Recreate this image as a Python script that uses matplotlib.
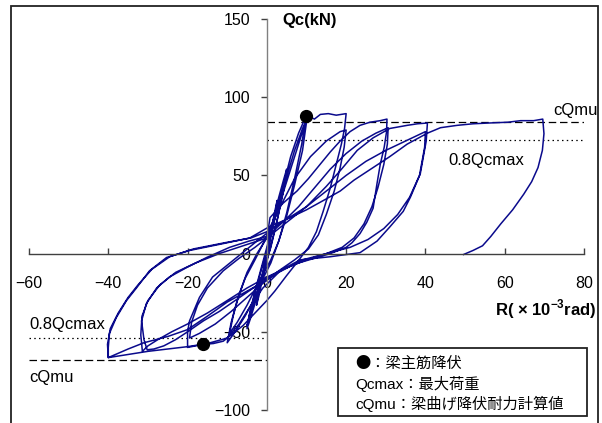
import matplotlib
matplotlib.use("Agg")
import matplotlib.pyplot as plt
from matplotlib.patches import Rectangle

plt.rcParams['font.family'] = ['Liberation Sans', 'DejaVu Sans']
plt.rcParams['mathtext.fontset'] = 'custom'
plt.rcParams['mathtext.rm'] = 'Liberation Sans'
plt.rcParams['mathtext.bf'] = 'Liberation Sans:bold'

# ---- data ----
R = [0, 1.0, 2.0, 2.6, 2.0, 1.0, 0.0, -1.0, -2.0, -2.6, -2.0, -1.0, 0.0,
     1.5, 3.0, 4.2, 5.0, 4.4, 3.0, 1.5, 0.0, -1.5, -3.0, -4.2, -5.0, -4.5, -3.0, -1.5, 0.0,
     1.8, 3.5, 5.0, 4.2, 2.5, 1.0, -1.0, -3.0, -5.0, -4.0, -2.0, 0.0,
     2.0, 4.0, 6.0, 8.0, 9.9, 8.8, 7.0, 5.0, 3.0, 1.0, -1.0, -3.0, -5.5, -8.0, -10.0,
     -9.0, -7.5, -5.5, -3.0, -1.0, 1.0, 3.0, 5.0, 7.0, 9.0, 10.0,
     9.0, 7.0, 5.0, 3.0, 1.0, -2.0, -5.0, -7.5, -9.4,
     -8.5, -7.0, -5.0, -2.5, 0.0,
     2.0, 4.5, 7.0, 9.0, 10.5, 12.0, 13.5, 15.5, 17.5, 20.0,
     19.6, 18.8, 17.7, 16.0, 14.2, 12.5, 10.5, 7.5, 5.0, 2.0, 0.0, -3.0, -6.0, -9.0, -11.0, -13.5, -16.0, -18.0, -20.0,
     -20.0, -19.5, -17.0, -13.7, -8.6, -5.0, -2.5, 0.0,
     3.0, 7.0, 11.0, 15.0, 18.5, 20.0,
     19.5, 18.5, 17.0, 15.0, 13.0, 10.5, 7.0, 3.0, -1.0, -5.0, -9.0, -13.0, -17.0, -19.5,
     -19.0, -17.5, -15.0, -11.0, -7.0, -3.0, 0.0,
     0.8, 4.0, 7.6, 10.5, 13.4, 16.0, 18.5, 21.0, 23.5, 26.0, 28.6, 30.3,
     30.2, 29.6, 28.6, 27.8, 26.8, 25.2, 23.5, 21.5, 20.0, 16.0, 12.0, 8.0, 4.0, 0.0,
     -4.0, -8.0, -12.0, -16.0, -20.0, -23.0, -26.0, -28.5, -30.2,
     -31.0, -31.6, -30.4, -27.8, -24.6, -20.3, -15.2, -9.4, -4.5, 0.0,
     4.0, 8.0, 12.0, 16.0, 20.0, 24.0, 27.5, 30.6,
     30.4, 29.5, 28.0, 26.5, 24.5, 22.0, 19.0, 15.0, 10.0, 5.0, 0.0, -5.0, -10.0, -15.0, -20.0, -24.0, -27.5, -30.0, -31.4,
     -31.8, -31.5, -30.0, -27.0, -23.0, -18.0, -12.0, -6.0, 0.0,
     5.0, 10.0, 15.0, 18.5, 22.8, 26.8, 31.0, 35.4, 38.0, 40.5,
     40.2, 38.7, 36.2, 34.4, 31.0, 27.8, 23.5, 16.0, 8.4, 4.0, 0.0, -5.0, -10.0, -15.0, -20.0, -25.0, -31.0, -35.0, -40.0,
     -40.2, -39.5, -37.5, -35.0, -32.5, -29.0, -24.5, -18.5, -10.5, -4.0, 0.0,
     5.0, 10.0, 15.0, 20.0, 25.0, 30.0, 35.0, 40.0,
     39.8, 38.5, 36.0, 33.0, 29.5, 25.5, 21.0, 15.0, 9.0, 3.0, -1.0, -4.0, -7.0, -10.0, -15.0, -20.0, -25.0, -30.0, -35.0, -40.0,
     -40.0, -39.7, -38.0, -35.4, -32.9, -29.6, -25.3, -19.5, -11.0, -4.3, 0.2,
     5.0, 10.0, 15.0, 18.5, 22.0, 26.8, 31.0, 35.4, 40.5, 43.8, 48.0, 52.0, 56.0, 60.8, 64.0, 67.3, 69.6,
     69.9, 69.5, 68.4, 66.8, 64.8, 62.0, 59.0, 56.5, 54.4, 52.0, 49.6]

Q = [0, 14, 27, 34, 24, 10, -4, -15, -27, -33, -24, -12, 2,
     20, 36, 47, 54, 44, 26, 10, -5, -18, -32, -42, -48, -40, -24, -10, 4,
     22, 38, 52, 40, 20, 4, -12, -30, -46, -35, -16, 2,
     22, 42, 62, 77, 88, 70, 48, 26, 8, -6, -16, -28, -40, -50, -57,
     -44, -30, -16, -4, 6, 16, 30, 46, 62, 78, 84,
     66, 44, 24, 8, -4, -18, -33, -44, -51,
     -40, -26, -12, 0, 10,
     22, 45, 66, 80, 88, 86, 89, 89.5, 88.5, 89.5,
     80, 70, 59, 42, 27, 14, 4, -6, -14, -24, -30, -38, -46, -52, -56, -57.5, -58, -59, -60,
     -50, -43, -28, -15, -4.5, 3, 8, 13,
     28, 48, 62, 72, 78, 79,
     68, 55, 40, 25, 12, 3, -4, -11, -19, -28, -37, -45, -51, -54,
     -44, -33, -22, -11, -3, 4, 10,
     23, 32, 40, 48, 57, 65, 72, 78, 82, 84, 85, 86,
     78, 68, 57, 45, 29, 20, 12.8, 7, 4, 0, -3, -6, -10, -16,
     -23, -30, -37, -43, -50, -55, -59, -61, -61.5,
     -55, -43, -32, -22, -15, -9, -2.5, 4, 8, 11,
     20, 30, 42, 54, 64, 72, 77, 80.5,
     70, 57, 42, 30, 19, 10, 4, 0, -4, -9, -15, -22, -30, -38, -45, -50, -55, -59, -62.5,
     -52, -40, -30, -20, -12, -6, 0, 5, 10,
     20, 30, 43, 53, 66, 74, 80, 82, 83, 83.5,
     72, 51, 36, 27, 17, 8, 0.6, -2, -4, -10, -17, -24, -31, -40, -48.6, -53, -57, -61, -66.5,
     -58, -48, -38, -28, -20, -10, -2, 3, 7, 10, 14,
     22, 30, 40, 50, 59, 66, 72, 78,
     68, 50, 36, 25, 16, 9, 4, 0, -4, -12, -22, -33, -45, -54, -57.5, -59.5, -61, -62.5, -64.5, -66.5,
     -60, -51, -41, -30, -22, -11, -2.5, 2, 6.4, 10, 16.6,
     22, 28, 35, 40, 47, 55, 62, 70, 77, 80.5, 82, 83, 83.5, 84, 85, 85, 86,
     76.7, 66, 55, 46, 38, 28, 19, 11, 5, 2, -0.6]

yield_R = [9.9, -16.0]
yield_Q = [88.0, -58.0]

cQmu_pos, cQmu_neg = 84.0, -68.0
q08_pos, q08_neg = 72.4, -54.0

x_ticks = [-60, -40, -20, 0, 20, 40, 60, 80]
y_ticks = [-100, -50, 0, 50, 100, 150]

legend_lines = ["●：梁主筋降伏", "Qcmax：最大荷重", "cQmu：梁曲げ降伏耐力計算値"]

# ---- figure ----
W, H = 602, 423
fig = plt.figure(figsize=(W / 100, H / 100), dpi=100)

# outer frame
fig.patches.append(Rectangle((11 / W, -0.05), (598 - 11) / W, (H - 6) / H + 0.05,
                             transform=fig.transFigure, fill=False,
                             edgecolor='#222222', linewidth=1.3))

ax = fig.add_axes([29 / W, (H - 410) / H, (584 - 29) / W, (410 - 19) / H])
ax.set_xlim(-60, 80)
ax.set_ylim(-100, 150)
ax.patch.set_alpha(0)

for s in ['top', 'right']:
    ax.spines[s].set_visible(False)
ax.spines['left'].set_position(('data', 0))
ax.spines['bottom'].set_position(('data', 0))
ax.spines['left'].set_color('#808080')
ax.spines['bottom'].set_color('#404040')
ax.spines['left'].set_linewidth(1.0)
ax.spines['bottom'].set_linewidth(1.0)

ax.set_xticks(x_ticks)
ax.set_yticks(y_ticks)
ax.tick_params(axis='x', direction='in', length=4, width=1, color='#404040',
               pad=16, labelsize=11.5)
ax.tick_params(axis='y', direction='out', length=4, width=1, color='#404040',
               pad=8, labelsize=11.5)

# reference lines
ax.plot([0, 80], [cQmu_pos, cQmu_pos], color='black', lw=0.9, dashes=(6, 3))
ax.plot([0, 80], [q08_pos, q08_pos], color='black', lw=0.9, dashes=(1.2, 2.6))
ax.plot([-60, 0], [cQmu_neg, cQmu_neg], color='black', lw=0.9, dashes=(6, 3))
ax.plot([-60, 0], [q08_neg, q08_neg], color='black', lw=0.9, dashes=(1.2, 2.6))

# hysteresis curve
ax.plot(R, Q, color='#0A0A8C', lw=1.1, solid_joinstyle='round')
ax.plot(yield_R, yield_Q, 'o', color='black', markersize=8.5, zorder=5)

# annotations
ax.text(72.2, 91.4, "cQmu", fontsize=12, ha='left', va='center')
ax.text(45.8, 59.4, "0.8Qcmax", fontsize=12, ha='left', va='center')
ax.text(-60.0, -45.4, "0.8Qcmax", fontsize=12, ha='left', va='center')
ax.text(-60.0, -79.5, "cQmu", fontsize=12, ha='left', va='center')

fig.text(282 / W, (H - 20) / H, "Qc(kN)", fontsize=12, fontweight='bold',
         ha='left', va='center')
fig.text(597 / W, (H - 309) / H, r"R( × 10$^{\mathbf{-3}}$rad)", fontsize=12,
         fontweight='bold', ha='right', va='center')

# legend box
fig.patches.append(Rectangle((338 / W, (H - 416) / H), (587 - 338) / W, (416 - 348) / H,
                             transform=fig.transFigure, fill=True, facecolor='white',
                             edgecolor='#222222', linewidth=1.3, zorder=3))
legend_fonts = [['Noto Sans CJK JP', 'DejaVu Sans'],
                ['Liberation Sans', 'Noto Sans CJK JP'],
                ['Liberation Sans', 'Noto Sans CJK JP']]
for txt, yp, fam in zip(legend_lines, [363, 384, 404], legend_fonts):
    fig.text(355 / W, (H - yp) / H, txt, fontsize=11, ha='left', va='center',
             family=fam, zorder=4)

fig.savefig("out.png", dpi=100)
